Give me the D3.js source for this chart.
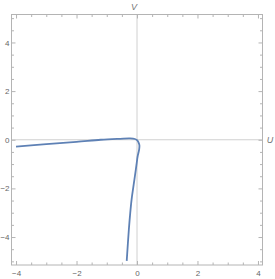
<!DOCTYPE html>
<html>
<head>
<meta charset="utf-8">
<script src="https://cdn.jsdelivr.net/npm/d3@7"></script>
<style>
  body { margin: 0; background: #fff; }
  text { font-family: 'Liberation Sans', Arial, sans-serif; }
</style>
</head>
<body>
<script>
const width = 275;
const height = 279;
const frame = { left: 11.5, right: 262.5, top: 14.5, bottom: 265 };

// curve samples
const uValues = [-4, -3, -2, -1.2, -0.56, -0.23, -0.07, 0.01, 0.05, 0.08, 0.07, 0.02, -0.01, -0.04, -0.11, -0.18, -0.23, -0.27, -0.34];
const vValues = [-0.28, -0.18, -0.09, 0.0, 0.04, 0.055, 0.03, -0.03, -0.11, -0.23, -0.41, -0.69, -0.96, -1.24, -1.85, -2.47, -3.1, -3.7, -4.98];
const majorTicks = [-4, -2, 0, 2, 4];
const tickLabels = ['\u22124', '\u22122', '0', '2', '4'];

const x = d3.scaleLinear([-4.15, 4.15], [frame.left, frame.right]);
const y = d3.scaleLinear([-5.15, 5.15], [frame.bottom, frame.top]);

const svg = d3.select('body').append('svg')
  .attr('width', width)
  .attr('height', height);

const gray = '#b4b4b4';
const minorX = d3.range(-4, 4.01, 0.5).filter(d => !majorTicks.includes(d));
const minorY = d3.range(-5, 5.01, 0.5).filter(d => !majorTicks.includes(d));

// zero axes
svg.append('line')
  .attr('x1', x(0)).attr('x2', x(0))
  .attr('y1', frame.top).attr('y2', frame.bottom)
  .attr('stroke', '#d0d0d0');
svg.append('line')
  .attr('x1', frame.left).attr('x2', frame.right)
  .attr('y1', y(0)).attr('y2', y(0))
  .attr('stroke', '#d0d0d0');

// frame
svg.append('rect')
  .attr('x', frame.left).attr('y', frame.top)
  .attr('width', frame.right - frame.left)
  .attr('height', frame.bottom - frame.top)
  .attr('fill', 'none')
  .attr('stroke', gray);

// frame ticks, pointing inward on all four sides
const bottomAxis = d3.axisBottom(x).tickValues(majorTicks).tickSize(-4).tickFormat((d, i) => tickLabels[i]).tickPadding(5);
const topAxis = d3.axisTop(x).tickValues(majorTicks).tickSize(-4).tickFormat('');
const leftAxis = d3.axisLeft(y).tickValues(majorTicks).tickSize(-4).tickFormat((d, i) => tickLabels[i]).tickPadding(2);
const rightAxis = d3.axisRight(y).tickValues(majorTicks).tickSize(-4).tickFormat('');

function styleAxis(g) {
  g.select('.domain').remove();
  g.selectAll('line').attr('stroke', gray);
  g.selectAll('text').attr('fill', '#666').style('font-size', '8px');
}

svg.append('g').attr('transform', `translate(0,${frame.bottom})`).call(bottomAxis).call(styleAxis);
svg.append('g').attr('transform', `translate(0,${frame.top})`).call(topAxis).call(styleAxis);
svg.append('g').attr('transform', `translate(${frame.left},0)`).call(leftAxis).call(styleAxis);
svg.append('g').attr('transform', `translate(${frame.right},0)`).call(rightAxis).call(styleAxis);

svg.append('g').attr('transform', `translate(0,${frame.bottom})`)
  .call(d3.axisBottom(x).tickValues(minorX).tickSize(-2.5).tickFormat('')).call(styleAxis);
svg.append('g').attr('transform', `translate(0,${frame.top})`)
  .call(d3.axisTop(x).tickValues(minorX).tickSize(-2.5).tickFormat('')).call(styleAxis);
svg.append('g').attr('transform', `translate(${frame.left},0)`)
  .call(d3.axisLeft(y).tickValues(minorY).tickSize(-2.5).tickFormat('')).call(styleAxis);
svg.append('g').attr('transform', `translate(${frame.right},0)`)
  .call(d3.axisRight(y).tickValues(minorY).tickSize(-2.5).tickFormat('')).call(styleAxis);

// axis names
svg.append('text')
  .attr('x', x(0) - 3).attr('y', 10)
  .attr('text-anchor', 'middle')
  .attr('fill', '#777')
  .style('font-style', 'italic')
  .style('font-size', '9px')
  .text('V');
svg.append('text')
  .attr('x', 270).attr('y', y(0) + 3)
  .attr('text-anchor', 'middle')
  .attr('fill', '#777')
  .style('font-style', 'italic')
  .style('font-size', '9px')
  .text('U');

// the curve
const points = uValues.map((u, i) => [u, vValues[i]]);
svg.append('path')
  .datum(points)
  .attr('fill', 'none')
  .attr('stroke', '#5e81b5')
  .attr('stroke-width', 1.8)
  .attr('stroke-linejoin', 'round')
  .attr('d', d3.line().x(d => x(d[0])).y(d => y(d[1])).curve(d3.curveCatmullRom));
</script>
</body>
</html>
